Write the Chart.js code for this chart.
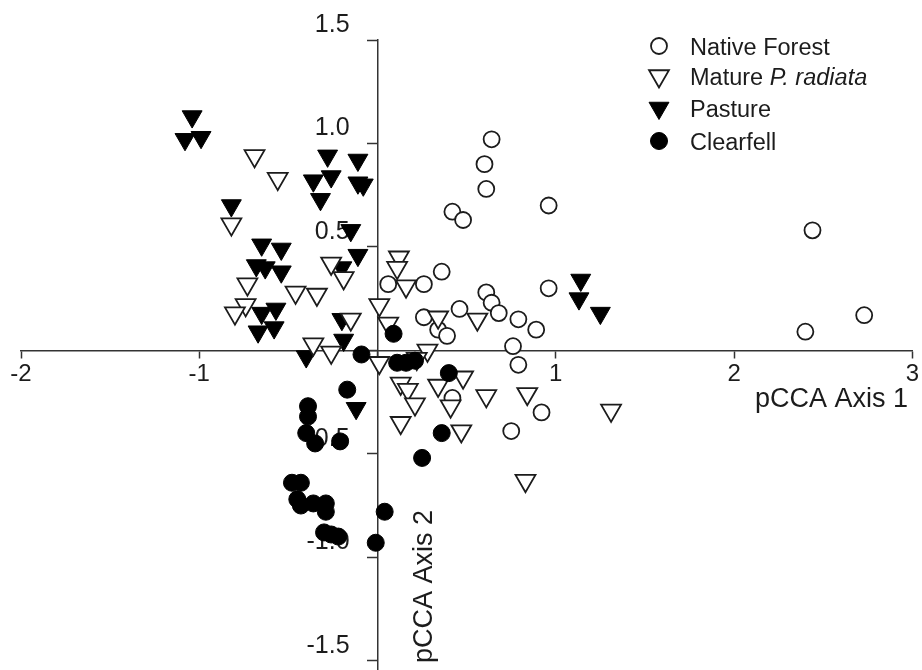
<!DOCTYPE html>
<html>
<head>
<meta charset="utf-8">
<title>pCCA Axis 1 / Axis 2</title>
<script src="https://cdn.jsdelivr.net/npm/chart.js@4.4.0/dist/chart.umd.min.js"></script>
<style>
    html, body { margin: 0; padding: 0; background: #fff; }
    #wrap { position: relative; width: 922px; height: 670px; }
</style>
</head>
<body>
<div id="wrap"><canvas id="chart" width="922" height="670"></canvas></div>
<script>
// site scores on the two pCCA axes
var nativeForest = [
    [0.64, 1.02], [0.60, 0.90], [0.61, 0.78], [0.42, 0.67], [0.48, 0.63], [0.96, 0.70],
    [0.36, 0.38], [0.96, 0.30], [0.61, 0.28], [0.64, 0.23], [0.68, 0.18], [0.46, 0.20],
    [0.79, 0.15], [0.89, 0.10], [0.76, 0.02], [0.79, -0.07], [0.06, 0.32], [0.26, 0.32],
    [0.26, 0.16], [0.34, 0.10], [0.39, 0.07], [0.42, -0.23], [0.92, -0.30], [0.75, -0.39],
    [2.44, 0.58], [2.73, 0.17], [2.40, 0.09]
];
var matureRadiata = [
    [-0.69, 0.94], [-0.56, 0.83], [-0.82, 0.61], [-0.73, 0.32], [-0.46, 0.28], [-0.34, 0.27],
    [-0.74, 0.22], [-0.80, 0.18], [-0.26, 0.42], [-0.19, 0.35], [-0.15, 0.15], [-0.36, 0.03],
    [-0.26, -0.01], [0.01, 0.22], [0.01, -0.06], [0.12, 0.45], [0.11, 0.40], [0.16, 0.31],
    [0.06, 0.13], [0.28, 0.00], [0.22, -0.04], [0.34, 0.16], [0.56, 0.15], [0.48, -0.13],
    [0.61, -0.22], [0.84, -0.21], [1.31, -0.29], [0.41, -0.27], [0.47, -0.39], [0.83, -0.63],
    [0.13, -0.16], [0.17, -0.19], [0.21, -0.26], [0.13, -0.35], [0.34, -0.17]
];
var pasture = [
    [-1.04, 1.13], [-1.08, 1.02], [-0.99, 1.03], [-0.82, 0.70], [-0.65, 0.51], [-0.54, 0.49],
    [-0.68, 0.41], [-0.63, 0.40], [-0.54, 0.38], [-0.65, 0.18], [-0.57, 0.20], [-0.67, 0.09],
    [-0.58, 0.11], [-0.28, 0.94], [-0.11, 0.92], [-0.36, 0.82], [-0.26, 0.84], [-0.11, 0.81],
    [-0.08, 0.80], [-0.32, 0.73], [-0.15, 0.58], [-0.11, 0.46], [-0.20, 0.40], [-0.20, 0.15],
    [-0.19, 0.05], [-0.40, -0.03], [-0.12, -0.28], [1.14, 0.34], [1.13, 0.25], [1.25, 0.18]
];
var clearfell = [
    [0.09, 0.08], [-0.09, -0.02], [0.11, -0.06], [0.16, -0.06], [0.21, -0.05], [0.40, -0.11],
    [-0.17, -0.19], [-0.39, -0.27], [-0.39, -0.32], [-0.40, -0.40], [-0.35, -0.45], [-0.21, -0.44],
    [-0.48, -0.64], [-0.43, -0.64], [-0.45, -0.72], [-0.43, -0.75], [-0.36, -0.74], [-0.29, -0.74],
    [-0.29, -0.78], [-0.30, -0.88], [-0.26, -0.89], [-0.22, -0.90], [0.04, -0.78], [-0.01, -0.93],
    [0.36, -0.40], [0.25, -0.52]
];

var xTicks = [-2, -1, 0, 1, 2, 3];
var yTicks = [-1.5, -1, -0.5, 0, 0.5, 1, 1.5];

var INK = '#1c1c1c';
var AXIS = '#333333';
var FONT = '"Liberation Sans", Arial, sans-serif';

function toPoints(list) {
    return list.map(function (p) { return { x: p[0], y: p[1] }; });
}

// marker look for each group, shared by the datasets and the legend
var markers = {
    native: { pointStyle: 'circle', rotation: 0, radius: 8, fill: '#ffffff', stroke: INK, border: 1.8 },
    mature: { pointStyle: 'triangle', rotation: 180, radius: 11.5, fill: '#ffffff', stroke: INK, border: 1.8 },
    pasture: { pointStyle: 'triangle', rotation: 180, radius: 11.5, fill: '#000000', stroke: '#000000', border: 1 },
    clearfell: { pointStyle: 'circle', rotation: 0, radius: 8.5, fill: '#000000', stroke: '#000000', border: 1 }
};

function makeSet(label, list, m, order) {
    return {
        label: label,
        data: toPoints(list),
        order: order,
        pointStyle: m.pointStyle,
        rotation: m.rotation,
        pointRadius: m.radius,
        pointHoverRadius: m.radius,
        backgroundColor: m.fill,
        borderColor: m.stroke,
        pointBorderWidth: m.border,
        showLine: false
    };
}

var legendRows = [
    { m: markers.native, parts: [['Native Forest', false]], y: 46 },
    { m: markers.mature, parts: [['Mature ', false], ['P. radiata', true]], y: 76 },
    { m: markers.pasture, parts: [['Pasture', false]], y: 108 },
    { m: markers.clearfell, parts: [['Clearfell', false]], y: 141 }
];

function drawMarker(ctx, m, x, y) {
    ctx.save();
    ctx.fillStyle = m.fill;
    ctx.strokeStyle = m.stroke;
    ctx.lineWidth = m.border;
    Chart.helpers.drawPoint(ctx, {
        pointStyle: m.pointStyle, rotation: m.rotation, radius: m.radius, borderWidth: m.border
    }, x, y);
    ctx.restore();
}

var extras = {
    id: 'extras',
    // y tick labels sit left of the axis, raised above their ticks; marks cover them
    beforeDatasetsDraw: function (chart) {
        var ctx = chart.ctx;
        var xs = chart.scales.x, ys = chart.scales.y;
        var axisX = xs.getPixelForValue(0);
        ctx.save();
        ctx.fillStyle = INK;
        ctx.font = '25px ' + FONT;
        ctx.textAlign = 'right';
        ctx.textBaseline = 'alphabetic';
        yTicks.forEach(function (v) {
            if (v === 0) return;
            ctx.fillText(v.toFixed(1), axisX - 28, ys.getPixelForValue(v) - 8);
        });
        ctx.restore();
    },
    afterDraw: function (chart) {
        var ctx = chart.ctx;
        var i, j, row, tx;
        ctx.save();
        ctx.fillStyle = INK;
        ctx.textBaseline = 'alphabetic';

        // axis titles
        ctx.font = '27px ' + FONT;
        ctx.textAlign = 'right';
        ctx.fillText('pCCA Axis 1', 908, 407);
        ctx.save();
        ctx.translate(432, 663);
        ctx.rotate(-Math.PI / 2);
        ctx.textAlign = 'left';
        ctx.fillText('pCCA Axis 2', 0, 0);
        ctx.restore();

        // legend
        ctx.textAlign = 'left';
        for (i = 0; i < legendRows.length; i++) {
            row = legendRows[i];
            drawMarker(ctx, row.m, 659, row.y);
            tx = 690;
            for (j = 0; j < row.parts.length; j++) {
                ctx.font = (row.parts[j][1] ? 'italic ' : '') + '23.5px ' + FONT;
                ctx.fillText(row.parts[j][0], tx, row.y + 8.5);
                tx += ctx.measureText(row.parts[j][0]).width;
            }
        }
        ctx.restore();
    }
};

new Chart(document.getElementById('chart'), {
    type: 'scatter',
    data: {
        datasets: [
            makeSet('Native Forest', nativeForest, markers.native, 3),
            makeSet('Mature P. radiata', matureRadiata, markers.mature, 1),
            makeSet('Pasture', pasture, markers.pasture, 2),
            makeSet('Clearfell', clearfell, markers.clearfell, 0)
        ]
    },
    options: {
        responsive: false,
        animation: false,
        events: [],
        // marks may run over the plot edge, so no automatic room for them
        layout: { autoPadding: false, padding: { left: 21, right: 6, top: 40, bottom: 0 } },
        plugins: {
            legend: { display: false },
            tooltip: { enabled: false }
        },
        scales: {
            x: {
                type: 'linear',
                min: -2,
                max: 3,
                position: { y: 0 },
                afterBuildTicks: function (s) {
                    s.ticks = xTicks.map(function (v) { return { value: v }; });
                },
                grid: { drawOnChartArea: false, drawTicks: true, tickLength: 7, tickColor: AXIS, tickWidth: 1.5 },
                border: { display: true, color: AXIS, width: 1.5 },
                ticks: {
                    color: INK,
                    font: { family: FONT, size: 24 },
                    padding: 3,
                    autoSkip: false,
                    maxRotation: 0,
                    callback: function (v) { return v === 0 ? '' : String(v); }
                }
            },
            y: {
                type: 'linear',
                min: -1.545,
                max: 1.5,
                position: { x: 0 },
                afterBuildTicks: function (s) {
                    s.ticks = yTicks.map(function (v) { return { value: v }; });
                },
                grid: { drawOnChartArea: false, drawTicks: true, tickLength: 10, tickColor: AXIS, tickWidth: 1.5 },
                border: { display: true, color: AXIS, width: 1.5 },
                ticks: { display: false }
            }
        }
    },
    plugins: [extras]
});
</script>
</body>
</html>
